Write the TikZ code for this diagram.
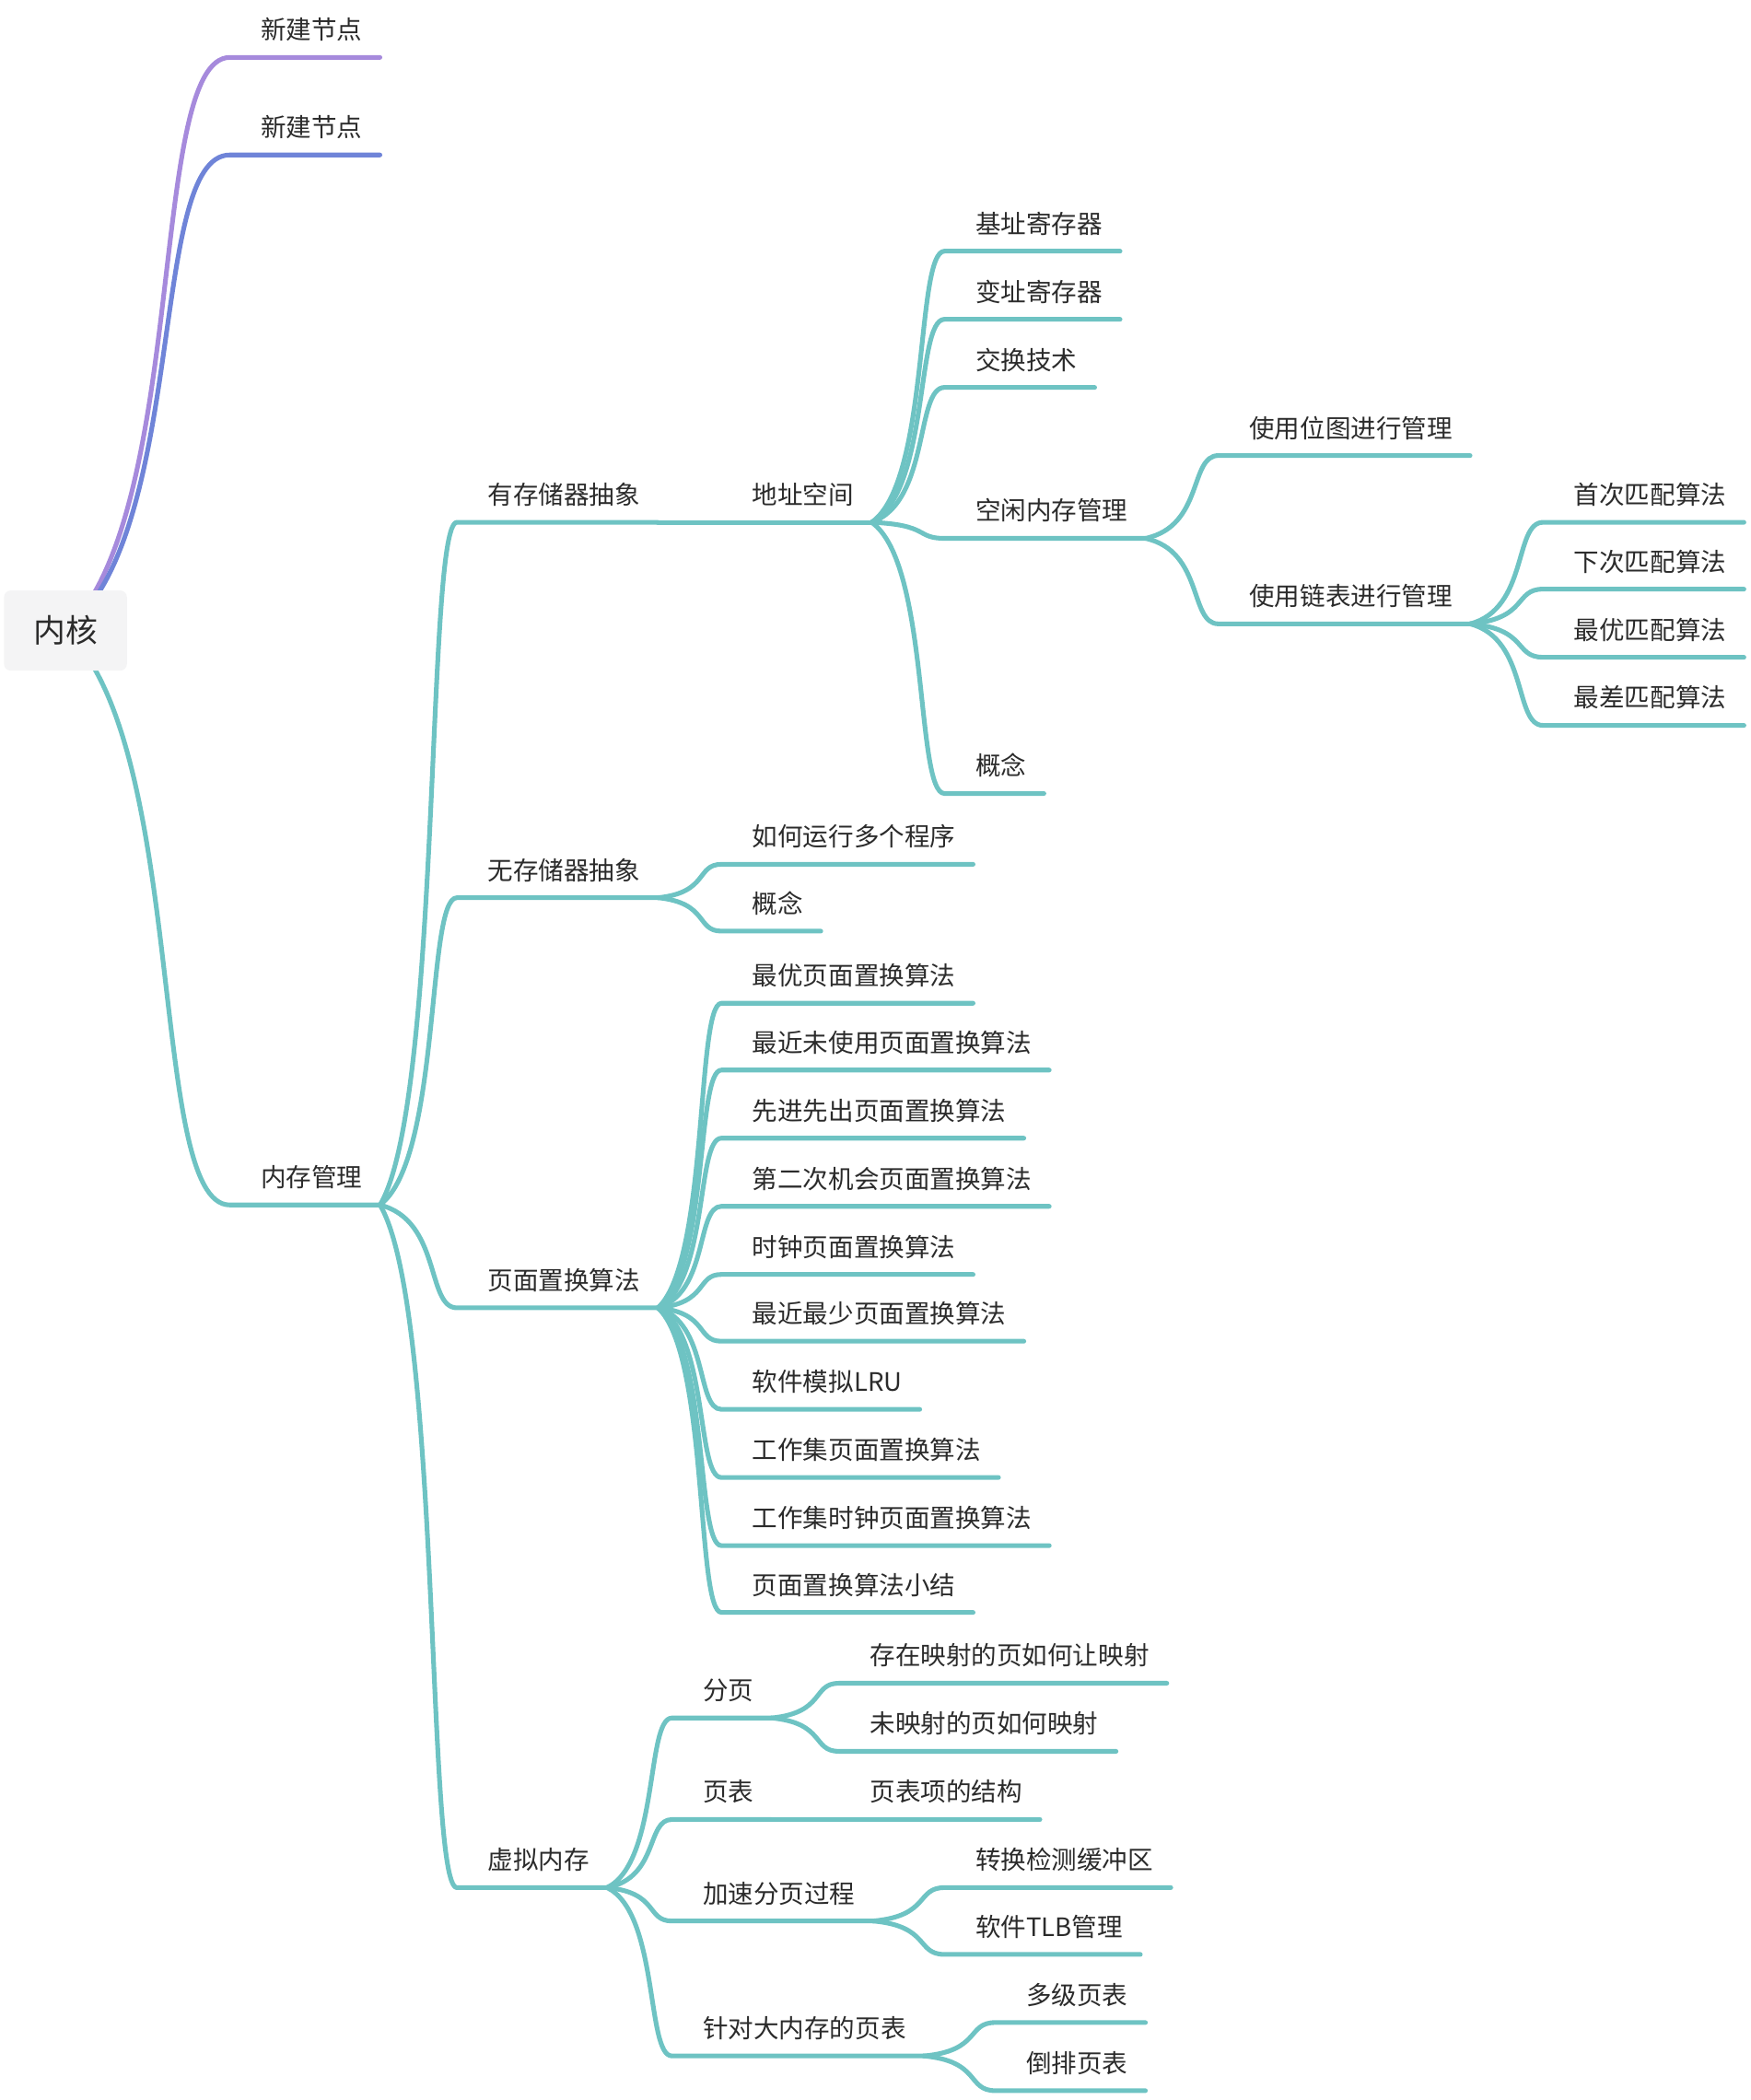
\documentclass[tikz,border=0pt]{standalone}
\usepackage{fontspec}
\setmainfont{Noto Sans CJK SC}
\usetikzlibrary{calc}

\definecolor{mapteal}{HTML}{6EC3C3}
\definecolor{mappurple}{HTML}{A68ADC}
\definecolor{mapblue}{HTML}{6F84D8}
\definecolor{rootgray}{HTML}{F4F4F5}
\definecolor{inkgray}{HTML}{2B2B2B}

\pgfdeclarelayer{background}
\pgfsetlayers{background,main}

\tikzset{
	topic/.style={anchor=south west, inner xsep=0pt, inner ysep=13.3pt, text depth=0pt, text=inkgray,
		font=\fontsize{19pt}{23pt}\selectfont,
		execute at begin node={\hspace{23pt}}, execute at end node={\hspace{13pt}}},
	limb/.style={draw=mapteal, line width=3.5pt, line cap=round, line join=round},
	branch/.style={limb,
		to path={let \p1=(\tikztostart), \p2=(\tikztotarget) in
			.. controls ({\x1+0.8*(\x2-\x1)}, {\y1+0.15*(\y2-\y1)}) and ({\x1+0.6*(\x2-\x1)}, \y2) .. (\tikztotarget)}},
	rootbranch/.style={limb,
		to path={let \p1=(\tikztostart), \p2=(\tikztotarget) in
			.. controls ({\x1+0.75*(\x2-\x1)}, {\y1+0.2*(\y2-\y1)}) and ({\x1+0.5*(\x2-\x1)}, \y2) .. (\tikztotarget)}},
}

\begin{document}
\begin{tikzpicture}[x=1pt, y=-1pt]
	\useasboundingbox (0,0) rectangle (1310,1572);

	% root and first level
	\node[fill=rootgray, rounded corners=5pt, minimum width=92pt, minimum height=60pt, text=inkgray,
		font=\fontsize{24pt}{28pt}\selectfont] (kernel) at (49,472) {内核};
	\node[topic] (new1) at (172,43) {新建节点};
	\node[topic] (new2) at (172,116) {新建节点};
	\node[topic] (mem) at (172,902) {内存管理};
	\begin{pgfonlayer}{background}
		\draw[rootbranch, draw=mappurple] (kernel.center) to (new1.south west) -- (new1.south east);
		\draw[rootbranch, draw=mapblue] (kernel.center) to (new2.south west) -- (new2.south east);
		\draw[rootbranch] (kernel.center) to (mem.south west) -- (mem.south east);
	\end{pgfonlayer}

	% memory management
	\foreach \id/\y/\txt in {real/391/有存储器抽象, none/672/无存储器抽象, repl/979/页面置换算法, virt/1413/虚拟内存} {
			\node[topic] (\id) at (342,\y) {\txt};
			\draw[branch] (mem.south east) to (\id.south west) -- (\id.south east);
		}

	% with memory abstraction
	\node[topic] (addr) at (540,391) {地址空间};
	\draw[branch] (real.south east) to (addr.south west) -- (addr.south east);
	\foreach \id/\y/\txt in {base/188/基址寄存器, limit/239/变址寄存器, swap/290/交换技术, free/403/空闲内存管理, idea1/594/概念} {
			\node[topic] (\id) at (707,\y) {\txt};
			\draw[branch] (addr.south east) to (\id.south west) -- (\id.south east);
		}
	\foreach \id/\y/\txt in {bitmap/341/使用位图进行管理, list/467/使用链表进行管理} {
			\node[topic] (\id) at (912,\y) {\txt};
			\draw[branch] (free.south east) to (\id.south west) -- (\id.south east);
		}
	\foreach \id/\y/\txt in {first/391/首次匹配算法, next/441/下次匹配算法, best/492/最优匹配算法, worst/543/最差匹配算法} {
			\node[topic] (\id) at (1155,\y) {\txt};
			\draw[branch] (list.south east) to (\id.south west) -- (\id.south east);
		}

	% without memory abstraction
	\foreach \id/\y/\txt in {multi/647/如何运行多个程序, idea2/697/概念} {
			\node[topic] (\id) at (540,\y) {\txt};
			\draw[branch] (none.south east) to (\id.south west) -- (\id.south east);
		}

	% page replacement
	\foreach \id/\y/\txt in {
			opt/751/最优页面置换算法,
			nru/801/最近未使用页面置换算法,
			fifo/852/先进先出页面置换算法,
			second/903/第二次机会页面置换算法,
			clock/954/时钟页面置换算法,
			lru/1004/最近最少页面置换算法,
			soft/1055/软件模拟LRU,
			ws/1106/工作集页面置换算法,
			wsclock/1157/工作集时钟页面置换算法,
			summary/1207/页面置换算法小结
		} {
			\node[topic] (\id) at (540,\y) {\txt};
			\draw[branch] (repl.south east) to (\id.south west) -- (\id.south east);
		}

	% virtual memory
	\foreach \id/\y/\txt in {paging/1286/分页, table/1362/页表, speed/1438/加速分页过程, large/1539/针对大内存的页表} {
			\node[topic] (\id) at (503,\y) {\txt};
			\draw[branch] (virt.south east) to (\id.south west) -- (\id.south east);
		}
	\foreach \id/\y/\txt in {mapped/1260/存在映射的页如何让映射, unmapped/1311/未映射的页如何映射} {
			\node[topic] (\id) at (628,\y) {\txt};
			\draw[branch] (paging.south east) to (\id.south west) -- (\id.south east);
		}
	\node[topic] (entry) at (628,1362) {页表项的结构};
	\draw[branch] (table.south east) to (entry.south west) -- (entry.south east);
	\foreach \id/\y/\txt in {tlb/1413/转换检测缓冲区, softtlb/1463/软件TLB管理} {
			\node[topic] (\id) at (707,\y) {\txt};
			\draw[branch] (speed.south east) to (\id.south west) -- (\id.south east);
		}
	\foreach \id/\y/\txt in {multilevel/1514/多级页表, inverted/1565/倒排页表} {
			\node[topic] (\id) at (745,\y) {\txt};
			\draw[branch] (large.south east) to (\id.south west) -- (\id.south east);
		}

\end{tikzpicture}
\end{document}
